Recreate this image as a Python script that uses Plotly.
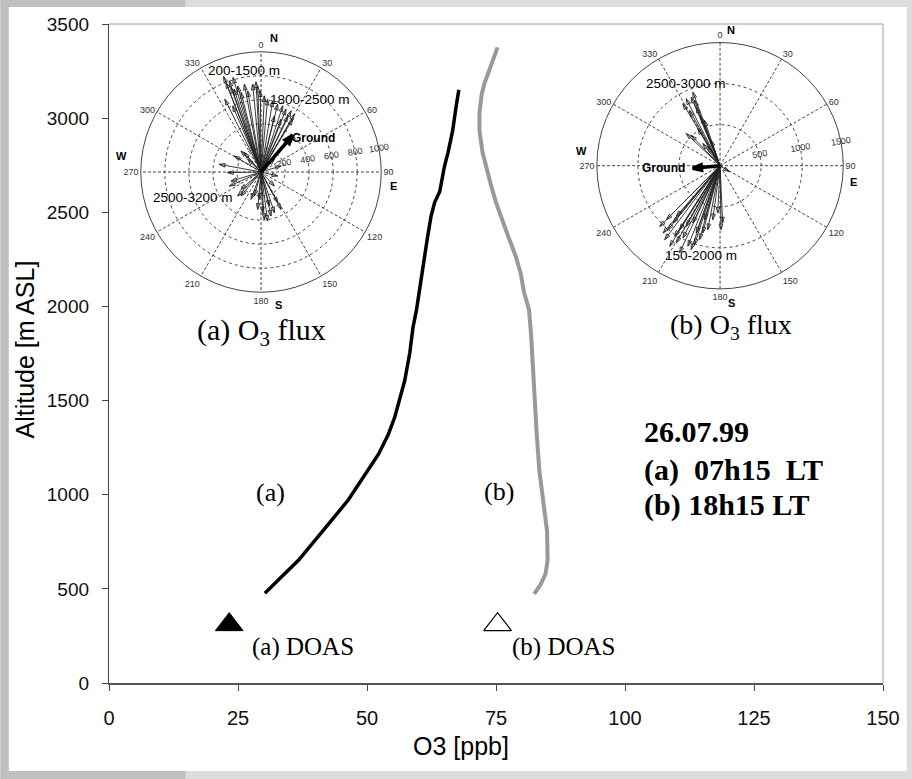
import plotly.graph_objects as go

# ---------------- data ----------------
# (a) 07h15 profile
o3_a = [30.2, 36.8, 41.6, 46.4, 52.2, 54.1, 55.4, 56.4, 57.3, 58.3, 58.9, 59.6, 60.2,
        60.8, 61.7, 62.4, 63.1, 64.1, 65.0, 65.7, 66.6, 67.3, 67.8]
alt_a = [477, 654, 813, 973, 1214, 1318, 1414, 1510, 1605, 1754, 1887, 1983, 2097,
         2211, 2362, 2477, 2552, 2610, 2743, 2817, 2934, 3067, 3150]
# (b) 18h15 profile
o3_b = [82.4, 83.6, 84.6, 85.0, 84.9, 84.3, 83.4, 82.9, 82.5, 82.2, 81.8, 81.4, 80.4,
        79.8, 78.8, 77.5, 76.2, 75.0, 74.0, 73.0, 72.4, 71.8, 71.8, 72.2, 72.7, 73.7, 75.3]
alt_b = [473, 521, 579, 654, 806, 939, 1129, 1318, 1510, 1698, 1850, 1983, 2079,
         2174, 2268, 2362, 2458, 2552, 2647, 2743, 2817, 2932, 3027, 3122, 3179, 3255, 3376]
# DOAS ground values
doas_o3 = [23.3, 75.3]
doas_alt = [310, 310]

# O3 flux vectors (direction deg from N, magnitude)
flux_a_dir = [338.6, 338.6, 340.8, 340.4, 342.0, 344.8, 345.9, 349.2, 350.7, 354.6, 356.8,
              357.8, 359.5, 2.5, 333.6, 336.8, 343.5,
              5.2, 9.3, 13.8, 18.2, 21.7, 26.2, 30.0, 31.0, 25.5, 20.8, 13.4,
              280.4, 268.9, 253.0, 301.0, 316.4, 319.2, 313.5, 246.2, 229.0, 224.2,
              46.5, 73.3, 103.5, 136.4,
              176.0, 172.3, 167.2, 161.8, 151.8, 151.5, 166.2, 177.7, 185.1, 183.5,
              195.5, 200.0, 219.8]
flux_a_mag = [853, 800, 803, 746, 724, 742, 682, 743, 684, 734, 751,
              712, 675, 634, 676, 598, 820,
              608, 600, 581, 579, 562, 567, 555, 512, 517, 470, 480,
              353, 278, 261, 259, 242, 213, 153, 288, 221, 279,
              153, 174, 143, 161,
              396, 412, 376, 357, 353, 291, 292, 339, 312, 228,
              208, 242, 260]
ground_a_dir = [40.8]
ground_a_mag = [404]

flux_b_dir = [339.7, 333.2, 329.1, 337.2, 338.7, 331.2, 313.6, 316.6, 329.1, 322.2, 327.0,
              340.7, 338.8, 337.9, 341.1,
              220.2, 216.8, 219.1, 212.0, 212.7, 209.5, 212.3, 207.2, 201.8, 199.0,
              197.9, 195.5, 194.4, 190.9, 187.7, 182.8, 179.1, 177.4, 219.4, 224.8,
              220.8, 209.1, 205.4, 199.5, 196.1, 204.9, 224.8, 122.7]
flux_b_mag = [955, 913, 880, 905, 853, 769, 568, 511, 526, 342, 274,
              329, 636, 771, 584,
              1073, 1124, 1003, 1156, 1021, 1080, 921, 989, 1055, 1079,
              1009, 934, 846, 793, 663, 577, 778, 698, 903, 927,
              815, 845, 772, 869, 684, 1169, 1041, 133]
ground_b_dir = [264.4]
ground_b_mag = [333]

angle_ticks = list(range(0, 360, 30))
x_ticks = [0, 25, 50, 75, 100, 125, 150]
y_ticks = [0, 500, 1000, 1500, 2000, 2500, 3000, 3500]

# ---------------- geometry helpers (layout only) ----------------
W, H = 912, 779
L, R, T, B = 109, 888, 24, 683


def px(x):
    return (x - L) / (R - L)


def py(y):
    return (B - y) / (B - T)


SANS = "Liberation Sans, Arial, sans-serif"
SERIF = "Liberation Serif, Times New Roman, serif"

fig = go.Figure()

# profiles
fig.add_trace(go.Scatter(x=o3_a, y=alt_a, mode="lines",
                         line=dict(color="#000000", width=3.5), hoverinfo="skip"))
fig.add_trace(go.Scatter(x=o3_b, y=alt_b, mode="lines",
                         line=dict(color="#999999", width=4), hoverinfo="skip"))
fig.add_trace(go.Scatter(x=doas_o3[:1], y=doas_alt[:1], mode="markers",
                         marker=dict(symbol="triangle-up", size=24, color="#000000",
                                     line=dict(color="#000000", width=1))))
fig.add_trace(go.Scatter(x=doas_o3[1:], y=doas_alt[1:], mode="markers",
                         marker=dict(symbol="triangle-up", size=24, color="#ffffff",
                                     line=dict(color="#000000", width=1.2))))


def arrows(dirs, mags, subplot, color, width, symbol, size):
    r, th = [], []
    for d, m in zip(dirs, mags):
        r += [0, m, None]
        th += [d, d, None]
    out = [go.Scatterpolar(r=r, theta=th, mode="lines", subplot=subplot,
                           line=dict(color=color, width=width), hoverinfo="skip")]
    out.append(go.Scatterpolar(r=mags, theta=dirs, mode="markers", subplot=subplot,
                               marker=dict(symbol=symbol, size=size, angle=dirs,
                                           color=color,
                                           line=dict(color=color, width=width)),
                               hoverinfo="skip"))
    return out


for tr in arrows(flux_a_dir, flux_a_mag, "polar", "#222222", 0.9, "arrow-open", 6):
    fig.add_trace(tr)
for tr in arrows(ground_a_dir, ground_a_mag, "polar", "#000000", 3.5, "arrow", 9):
    fig.add_trace(tr)
for tr in arrows(flux_b_dir, flux_b_mag, "polar2", "#222222", 0.9, "arrow-open", 6):
    fig.add_trace(tr)
for tr in arrows(ground_b_dir, ground_b_mag, "polar2", "#000000", 3.5, "arrow", 9):
    fig.add_trace(tr)


def polar_layout(domx, domy, rmax, rticks):
    return dict(
        domain=dict(x=domx, y=domy),
        bgcolor="#ffffff",
        angularaxis=dict(rotation=90, direction="clockwise",
                         tickvals=angle_ticks, ticktext=[str(a) for a in angle_ticks],
                         ticks="", showline=True, linecolor="#444444", linewidth=1,
                         showgrid=True, gridcolor="#444444", gridwidth=0.8,
                         griddash="3px,2px",
                         tickfont=dict(family=SANS, size=9, color="#333333")),
        radialaxis=dict(range=[0, rmax], tickvals=rticks,
                        ticktext=[str(v) for v in rticks],
                        angle=9, side="counterclockwise", showline=False, ticks="",
                        showgrid=True, gridcolor="#444444", gridwidth=0.8, griddash="dot",
                        tickfont=dict(family=SANS, size=9, color="#333333")),
    )


ann = []


def text(x, y, s, size, family=SANS, bold=False, anchor="center", angle=0, color="#000000"):
    if bold:
        s = "<b>" + s + "</b>"
    ann.append(dict(x=px(x), y=py(y), xref="paper", yref="paper", text=s, showarrow=False,
                    xanchor=anchor, yanchor="middle", textangle=angle,
                    font=dict(family=family, size=size, color=color)))


# axis titles
text(24, 350, "Altitude [m ASL]", 25, angle=-90)
text(463, 746, "O3 [ppb]", 25)

# polar (a) labels
text(275, 38, "N", 11, bold=True)
text(395, 186, "E", 11, bold=True)
text(280, 305, "S", 11, bold=True)
text(122, 156, "W", 11, bold=True)
text(245, 70, "200-1500 m", 13.5)
text(311, 100, "1800-2500 m", 13.5)
text(315, 138, "Ground", 12, bold=True)
text(194, 197, "2500-3200 m", 13.5)
text(262, 332, "(a) O<sub>3</sub> flux", 30, family=SERIF)

# polar (b) labels
text(735, 30, "N", 11, bold=True)
text(858, 182, "E", 11, bold=True)
text(736, 303, "S", 11, bold=True)
text(585, 151, "W", 11, bold=True)
text(690, 83, "2500-3000 m", 13.5)
text(667, 168, "Ground", 12, bold=True)
text(705, 255, "150-2000 m", 13.5)
text(735, 326, "(b) O<sub>3</sub> flux", 28, family=SERIF)

# curve labels
text(272, 492, "(a)", 26, family=SERIF)
text(502, 491, "(b)", 26, family=SERIF)
text(251, 647, "(a) DOAS", 25, family=SERIF, anchor="left")
text(513, 647, "(b) DOAS", 25, family=SERIF, anchor="left")

# date block
text(645, 431, "26.07.99", 30, family=SERIF, bold=True, anchor="left")
text(645, 470, "(a)\u00a0\u00a007h15\u00a0\u00a0LT", 30, family=SERIF, bold=True, anchor="left")
text(645, 505, "(b) 18h15 LT", 30, family=SERIF, bold=True, anchor="left")

shapes = [
    # page background: white sheet with grey borders
    dict(type="rect", xref="paper", yref="paper", layer="below",
         x0=px(8), x1=px(W), y0=py(771), y1=py(7), fillcolor="#ffffff", line=dict(width=0)),
    dict(type="rect", xref="paper", yref="paper", layer="below",
         x0=px(0), x1=px(8), y0=py(H), y1=py(0), fillcolor="#c0c0c0", line=dict(width=0)),
    dict(type="rect", xref="paper", yref="paper", layer="below",
         x0=px(0), x1=px(186), y0=py(7), y1=py(0), fillcolor="#c0c0c0", line=dict(width=0)),
    dict(type="rect", xref="paper", yref="paper", layer="below",
         x0=px(0), x1=px(186), y0=py(H), y1=py(771), fillcolor="#c0c0c0", line=dict(width=0)),
    # frame top/right
    dict(type="line", xref="paper", yref="paper", layer="below",
         x0=0, x1=1, y0=1, y1=1, line=dict(color="#a0a0a0", width=1)),
    dict(type="line", xref="paper", yref="paper", layer="below",
         x0=1, x1=1, y0=0, y1=1, line=dict(color="#a0a0a0", width=1)),
]

fig.update_layout(
    width=W, height=H,
    margin=dict(l=L, r=W - R, t=T, b=H - B, pad=0),
    paper_bgcolor="#dcdcdc",
    plot_bgcolor="rgba(0,0,0,0)",
    showlegend=False,
    xaxis=dict(range=[0, 150], tickvals=x_ticks, ticks="outside", ticklen=6,
               tickcolor="#444444", tickwidth=1.3, showline=True, linecolor="#555555",
               linewidth=2, showgrid=False, zeroline=False, ticklabelstandoff=10,
               tickfont=dict(family=SANS, size=20, color="#111111")),
    yaxis=dict(range=[0, 3500], tickvals=y_ticks, ticks="outside", ticklen=6,
               tickcolor="#444444", tickwidth=1.3, showline=True, linecolor="#444444",
               linewidth=1.3, showgrid=False, zeroline=False, ticklabelstandoff=9,
               tickfont=dict(family=SANS, size=19, color="#111111")),
    polar=polar_layout([px(141), px(383)], [py(293), py(51)], 1000,
                       [200, 400, 600, 800, 1000]),
    polar2=polar_layout([px(600), px(848)], [py(289.7), py(41.7)], 1500,
                        [500, 1000, 1500]),
    annotations=ann,
    shapes=shapes,
)

fig.write_html("out.html")
